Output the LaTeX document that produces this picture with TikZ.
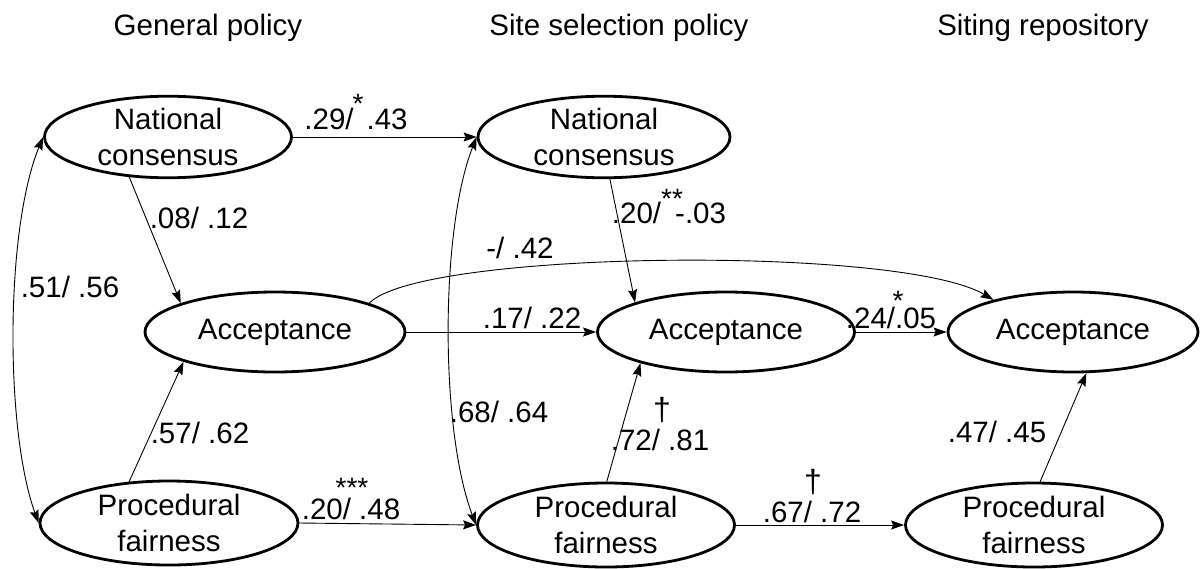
\documentclass[tikz,border=0pt]{standalone}
\usepackage{fontspec}
\setmainfont{Liberation Sans}
\usetikzlibrary{shapes.geometric,arrows.meta}
\begin{document}
\begin{tikzpicture}[x=1pt,y=-1pt,
  font=\fontsize{29.5}{36}\selectfont,
  latent/.style={ellipse,draw,line width=2.8pt,inner sep=0pt,align=center},
  path/.style={line width=0.9pt,-{Stealth[length=13pt,width=9pt,inset=2pt]}},
  both/.style={line width=0.9pt,{Stealth[length=13pt,width=9pt,inset=2pt]}-{Stealth[length=13pt,width=9pt,inset=2pt]}},
  lbl/.style={inner sep=0pt},
  % significance marks: the box is trimmed to the asterisk itself
  sig/.style={inner sep=0pt,text height=0.27em,text depth=0pt,font=\fontsize{28}{30}\selectfont}]
\useasboundingbox (0,0) rectangle (1201,568);

% column headings
\node[lbl] (h1) at (208,28) {General policy};
\node[lbl] (h2) at (619,28) {Site selection policy};
\node[lbl] (h3) at (1043,28) {Siting repository};

% latent variables
\node[latent,minimum width=247pt,minimum height=80pt] (gnc) at (168,137) {National\\consensus};
\node[latent,minimum width=252pt,minimum height=80pt] (snc) at (604,137) {National\\consensus};
\node[latent,minimum width=260pt,minimum height=80pt] (gacc) at (275,332) {Acceptance};
\node[latent,minimum width=257pt,minimum height=80pt] (sacc) at (726,332) {Acceptance};
\node[latent,minimum width=250pt,minimum height=80pt] (racc) at (1073,332) {Acceptance};
\node[latent,minimum width=258pt,minimum height=84pt] (gproc) at (169,523) {Procedural\\fairness};
\node[latent,minimum width=257pt,minimum height=84pt] (sproc) at (606,525) {Procedural\\fairness};
\node[latent,minimum width=257pt,minimum height=84pt] (rproc) at (1034,525) {Procedural\\fairness};

% structural paths
\draw[path] (gnc.east) -- (snc.west);
\draw[path] (gnc.-134) -- (gacc.163);
\draw[path] (gproc.134) -- (gacc.-162);
\draw[path] (gacc.east) -- (sacc.west);
\draw[path] (gacc.17) .. controls (420,250) and (900,245) .. (racc.158);
\draw[path] (snc.-82) -- (sacc.162);
\draw[path] (sproc.89) -- (sacc.-160);
\draw[path] (sacc.east) -- (racc.west);
\draw[path] (gproc.east) -- (sproc.west);
\draw[path] (sproc.east) -- (rproc.west);
\draw[path] (rproc.82) -- (racc.-72);

% correlations
\draw[both] (gnc.west) .. controls (5,230) and (5,430) .. (gproc.west);
\draw[both] (snc.west) .. controls (440,230) and (440,430) .. (sproc.west);

% coefficients
\node[lbl] (c1) at (356,119) {.29/\hspace{13pt}.43};
\node[sig] (s1) at (358,100) {\raisebox{-0.44em}{*}};
\node[lbl] (c2) at (199,218) {.08/ .12};
\node[lbl] (c3) at (200,433) {.57/ .62};
\node[lbl] (c4) at (70,287) {.51/ .56};
\node[lbl] (c5) at (520,248) {-/ .42};
\node[lbl] (c6) at (532,318) {.17/ .22};
\node[lbl] (c7) at (499,412) {.68/ .64};
\node[lbl] (c8) at (669,213) {.20/\hspace{14pt}-.03};
\node[sig] (s8) at (672,195) {\raisebox{-0.44em}{**}};
\node[lbl] (c9) at (660,440) {.72/ .81};
\node[lbl,font=\fontsize{32}{34}\selectfont] (d9) at (662,410) {†};
\node[lbl] (c10) at (891,318) {.24/.05};
\node[sig] (s10) at (898,297) {\raisebox{-0.44em}{*}};
\node[lbl] (c11) at (997,432) {.47/ .45};
\node[lbl] (c12) at (351,509) {.20/ .48};
\node[sig] (s12) at (352,484) {\raisebox{-0.44em}{***}};
\node[lbl] (c13) at (812,512) {.67/ .72};
\node[lbl,font=\fontsize{32}{34}\selectfont] (d13) at (813,482) {†};
\end{tikzpicture}
\end{document}
